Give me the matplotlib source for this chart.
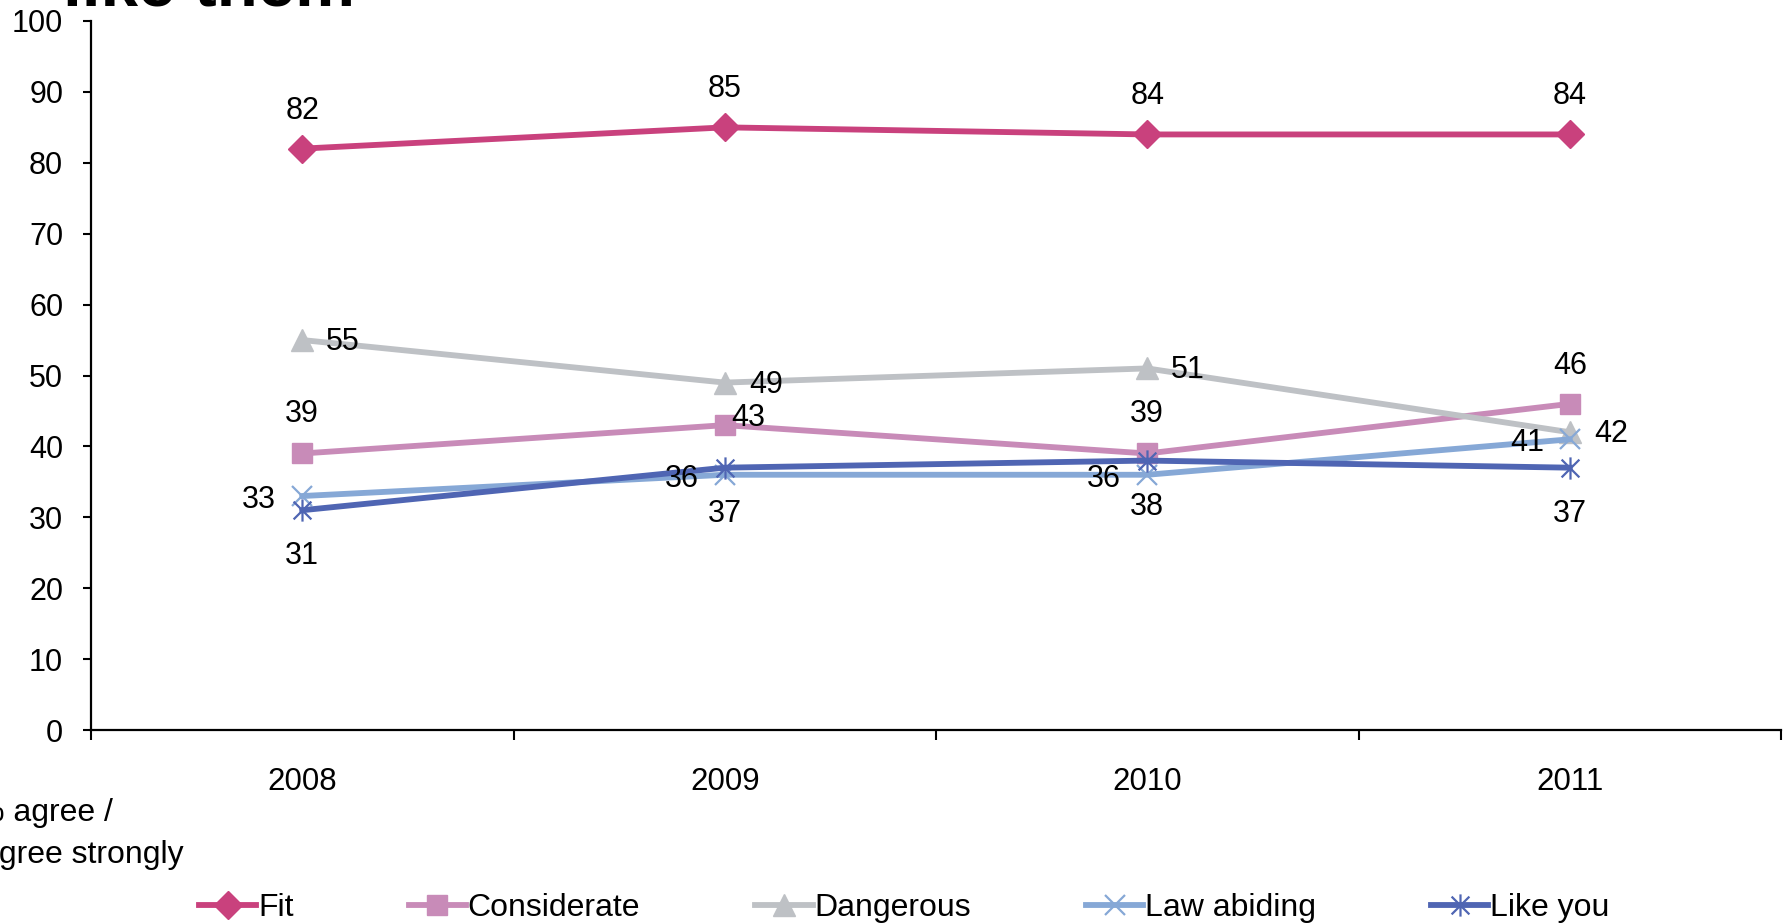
import matplotlib
matplotlib.use("Agg")
from matplotlib import pyplot as plt
from matplotlib.path import Path

plt.rcParams["font.family"] = ["Liberation Sans", "DejaVu Sans"]

years = ["2008", "2009", "2010", "2011"]
fit = [82, 85, 84, 84]
considerate = [39, 43, 39, 46]
dangerous = [55, 49, 51, 42]
law_abiding = [33, 36, 36, 41]
like_you = [31, 37, 38, 37]

# excel style star: an X with a vertical bar through it
star = Path([(-1, -1), (1, 1), (-1, 1), (1, -1), (0, -1.25), (0, 1.25)],
            [Path.MOVETO, Path.LINETO, Path.MOVETO, Path.LINETO, Path.MOVETO, Path.LINETO])

series = [
    ("Fit", fit, "#C9417D", "D", 14),
    ("Considerate", considerate, "#C88BB8", "s", 15),
    ("Dangerous", dangerous, "#BEC1C5", "^", 16),
    ("Law abiding", law_abiding, "#86A8D6", "x", 14),
    ("Like you", like_you, "#4F65B3", star, 16),
]

# label placement per series and point: (dx, dy) in pixels, ha
label_pos = {
    "Fit": [((0, 38), "center")] * 4,
    "Considerate": [((0, 39), "center"), ((7, 7), "left"), ((0, 39), "center"), ((0, 38), "center")],
    "Dangerous": [((24, -2), "left")] * 4,
    "Law abiding": [((-26, -4), "right")] * 4,
    "Like you": [((0, -46), "center")] * 4,
}

fig = plt.figure(figsize=(17.87, 9.24), dpi=100)
ax = fig.add_axes([91 / 1787, 1 - 730 / 924, (1781 - 91) / 1787, (730 - 21) / 924])

x = list(range(len(years)))
for name, vals, color, marker, ms in series:
    thin = marker == "x" or marker is star
    ax.plot(x, vals, color=color, lw=4.2, marker=marker, markersize=ms,
            markeredgewidth=1.6 if thin else 1, markeredgecolor=color,
            markerfacecolor=color, label=name)
    for i, v in enumerate(vals):
        (dx, dy), ha = label_pos[name][i]
        ax.annotate(str(v), (i, v), xytext=(dx, dy), textcoords="offset pixels",
                    ha=ha, va="center", fontsize=22, color="black")

ax.set_xlim(-0.5, len(years) - 0.5)
ax.set_ylim(0, 100)
ax.set_yticks(range(0, 101, 10))
ax.set_xticks(x)
ax.set_xticklabels(years)
ax.set_xticks([i - 0.5 for i in range(len(years) + 1)], minor=True)
ax.tick_params(axis="x", which="major", length=0, pad=26.5, labelsize=22.5)
ax.tick_params(axis="x", which="minor", length=7, width=1.5, direction="out")
ax.tick_params(axis="y", length=6, width=1.5, pad=14, labelsize=22)
for side in ("top", "right"):
    ax.spines[side].set_visible(False)
for side in ("left", "bottom"):
    ax.spines[side].set_linewidth(1.6)

fig.text(63 / 1787, 1 - 6 / 924, "like them", fontsize=48.5, fontweight="bold",
         ha="left", va="baseline")
fig.text(113 / 1787, 1 - 813 / 924, "% agree /", fontsize=23, ha="right", va="center")
fig.text(184 / 1787, 1 - 855 / 924, "agree strongly", fontsize=23, ha="right", va="center")

fig.legend(loc="center", bbox_to_anchor=(0.506, 1 - 908 / 924), ncol=5, frameon=False,
           fontsize=23, handlelength=1.8, handletextpad=0.05, columnspacing=3.6,
           markerscale=1.0)

fig.savefig("out.png", dpi=100)
